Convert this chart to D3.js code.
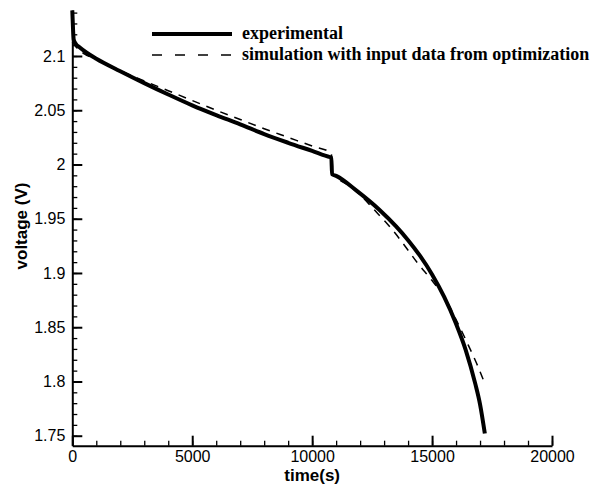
<!DOCTYPE html>
<html lang="en">
	<head>
		<title>Voltage vs time</title>
		<script src="https://d3js.org/d3.v7.min.js"></script>
		<style>
			body { margin: 0; background: #fff; }
			.tick text { font-family: "Liberation Sans", Arial, sans-serif; font-size: 16px; fill: #000; }
		</style>
	</head>
	<body>
		<div id="chart"></div>
	<script>
	// experimental curve (time s, voltage V)
	const expTime = [0, 30, 60, 150, 300, 600, 1000, 2000, 3000, 4000, 5000, 6000, 7000, 8000, 9000, 10000, 10750, 10800, 10830, 11000, 11850, 12800, 13500, 14000, 14500, 15000, 15500, 16000, 16400, 16800, 17000, 17200];
	const expVolt = [2.142, 2.125, 2.115, 2.111, 2.108, 2.103, 2.0975, 2.086, 2.075, 2.0645, 2.0545, 2.0455, 2.037, 2.028, 2.020, 2.0125, 2.0068, 2.0066, 1.991, 1.9895, 1.9759, 1.9583, 1.9429, 1.9302, 1.9157, 1.8987, 1.8782, 1.8532, 1.8292, 1.798, 1.779, 1.752];

	// simulation curve
	const simTime = [0, 200, 500, 1000, 2000, 3000, 4000, 5000, 6000, 7000, 8000, 9000, 10000, 10800, 10830, 11500, 12000, 12600, 13300, 14000, 14400, 15000, 15500, 16000, 16500, 16850, 17200];
	const simVolt = [2.113, 2.107, 2.102, 2.097, 2.0865, 2.077, 2.068, 2.059, 2.050, 2.0415, 2.033, 2.025, 2.017, 2.0105, 1.992, 1.981, 1.972, 1.958, 1.941, 1.921, 1.909, 1.893, 1.878, 1.857, 1.834, 1.817, 1.798];

	const xTicks = [0, 5000, 10000, 15000, 20000];
	const yTicks = [1.75, 1.8, 1.85, 1.9, 1.95, 2, 2.05, 2.1];
	const legendLabels = ["experimental", "simulation with input data from optimization"];

	const width = 594, height = 488;
	const svg = d3.select("#chart").append("svg")
		.attr("width", width)
		.attr("height", height);

	const x = d3.scaleLinear().domain([0, 20000]).range([72.3, 552]);
	const y = d3.scaleLinear().domain([1.7408, 2.1424]).range([445.7, 10]);

	// minor ticks
	svg.append("g")
		.attr("transform", `translate(0,${y.range()[0]})`)
		.call(d3.axisBottom(x).tickValues(d3.range(0, 20001, 1000)).tickSize(-5).tickSizeOuter(0).tickFormat(""))
		.call(g => g.select(".domain").remove())
		.call(g => g.selectAll("line").attr("stroke-width", 1.3));
	svg.append("g")
		.attr("transform", `translate(${x.range()[0]},0)`)
		.call(d3.axisLeft(y).tickValues(d3.range(175, 215).map(d => d / 100)).tickSize(-5).tickSizeOuter(0).tickFormat(""))
		.call(g => g.select(".domain").remove())
		.call(g => g.selectAll("line").attr("stroke-width", 1.3));

	// major axes
	svg.append("g")
		.attr("transform", `translate(0,${y.range()[0]})`)
		.call(d3.axisBottom(x).tickValues(xTicks).tickSize(-10).tickSizeOuter(0).tickPadding(4).tickFormat(d3.format("d")))
		.call(g => g.selectAll("line, .domain").attr("stroke-width", 2))
		.call(g => g.selectAll("text").attr("dy", "0.76em"));
	svg.append("g")
		.attr("transform", `translate(${x.range()[0]},0)`)
		.call(d3.axisLeft(y).tickValues(yTicks).tickSize(-10).tickSizeOuter(0).tickPadding(7).tickFormat(d => String(d)))
		.call(g => g.selectAll("line, .domain").attr("stroke-width", 2));

	// axis titles
	svg.append("text")
		.attr("x", (x.range()[0] + x.range()[1]) / 2)
		.attr("y", 481)
		.attr("text-anchor", "middle")
		.style("font-family", "Liberation Sans, Arial, sans-serif")
		.style("font-weight", "bold")
		.style("font-size", "17px")
		.text("time(s)");
	svg.append("text")
		.attr("transform", "translate(27,226) rotate(-90)")
		.attr("text-anchor", "middle")
		.style("font-family", "Liberation Sans, Arial, sans-serif")
		.style("font-weight", "bold")
		.style("font-size", "17px")
		.text("voltage (V)");

	const line = d3.line().x(d => x(d[0])).y(d => y(d[1])).curve(d3.curveMonotoneX);

	svg.append("path")
		.datum(simTime.map((t, i) => [t, simVolt[i]]))
		.attr("d", line)
		.attr("fill", "none")
		.attr("stroke", "#000")
		.attr("stroke-width", 1.5)
		.attr("stroke-dasharray", "8,7");

	svg.append("path")
		.datum(expTime.map((t, i) => [t, expVolt[i]]))
		.attr("d", line)
		.attr("fill", "none")
		.attr("stroke", "#000")
		.attr("stroke-width", 4);

	// legend
	const legend = svg.append("g");
	legend.append("line")
		.attr("x1", 152).attr("x2", 232).attr("y1", 34).attr("y2", 34)
		.attr("stroke", "#000").attr("stroke-width", 4);
	legend.append("line")
		.attr("x1", 152).attr("x2", 232).attr("y1", 55).attr("y2", 55)
		.attr("stroke", "#000").attr("stroke-width", 1.5)
		.attr("stroke-dasharray", "10,13");
	legend.selectAll("text.lab")
		.data(legendLabels)
		.join("text")
		.attr("class", "lab")
		.attr("x", 242)
		.attr("y", (d, i) => 39 + i * 20.5)
		.style("font-family", "Liberation Serif, Times New Roman, serif")
		.style("font-weight", "bold")
		.style("font-size", "18px")
		.text(d => d);
	</script>
	</body>
</html>
